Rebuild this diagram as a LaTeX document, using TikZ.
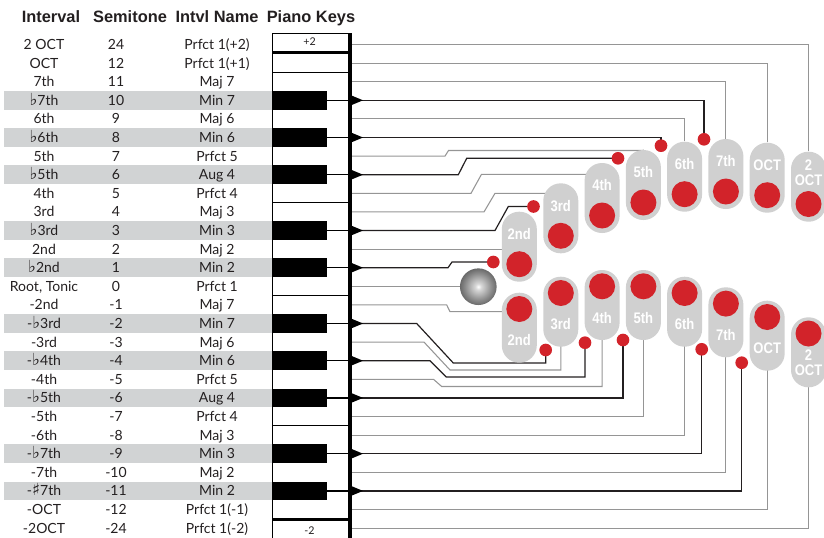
\documentclass[tikz,border=0pt]{standalone}
\usepackage{fontspec}
\setmainfont{Lato}
\newfontfamily\hdrfont{Liberation Sans}
\newfontfamily\pillfont[FakeStretch=0.85]{Liberation Sans}
\newfontfamily\symfont{DejaVu Sans}
\pgfdeclarelayer{bg}
\pgfsetlayers{bg,main}
\definecolor{pillgray}{HTML}{D0D0D0}
\definecolor{redc}{HTML}{D2232A}
\definecolor{bandgray}{HTML}{D1D3D4}
\definecolor{ink}{HTML}{231F20}
\definecolor{wire}{HTML}{959595}
\newcommand{\flt}{{\symfont\fontsize{12.5}{12}\selectfont\char"266D}}
\newcommand{\shp}{{\symfont\fontsize{12.5}{12}\selectfont\char"266F}}
\pgfdeclareradialshading{sphereshade}{\pgfpoint{0bp}{0bp}}{color(0bp)=(white); color(4bp)=(white!85!black); color(18bp)=(black!45); color(35bp)=(black!78); color(50bp)=(black!78)}
\begin{document}
\begin{tikzpicture}[x=0.75pt,y=-0.75pt,
  hdr/.style={font=\hdrfont\bfseries\fontsize{12.3}{14}\selectfont,text=ink,inner sep=0,text height=8.8pt,text depth=0pt},
  cell/.style={font=\fontsize{10.5}{12}\selectfont,text=ink,inner sep=0,text height=7.5pt,text depth=0pt},
  keylab/.style={font=\fontsize{8}{9}\selectfont,text=ink,inner sep=0},
  wirew/.style={draw=wire,line width=0.8pt},
  wireb/.style={draw=ink,line width=0.9pt},
  pill/.style={fill=pillgray,rounded corners=13pt,minimum width=26.25pt,minimum height=52.5pt,inner sep=0,draw=none},
  bigdot/.style={circle,fill=redc,minimum size=19.5pt,inner sep=0},
  smalldot/.style={circle,fill=redc,minimum size=9.5pt,inner sep=0},
  plab/.style={font=\pillfont\bfseries\fontsize{11.5}{12}\selectfont,text=white,inner sep=0,text height=8.2pt,text depth=0pt},
]
\useasboundingbox (0,0) rectangle (824,537);
\clip (0,0) rectangle (824,537);

% headers
\node[hdr] (h1) at (51,17) {Interval};
\node[hdr] (h2) at (130,17) {Semitone};
\node[hdr] (h3) at (217,17) {Intvl Name};
\node[hdr] (h4) at (311,17) {Piano Keys};

% shaded bands for black-key rows
\foreach \i in {3,5,7,10,12,15,17,19,22,24}{
  \fill[bandgray] (4,44.5+18.6*\i-9.3) rectangle (272,44.5+18.6*\i+9.3);
}

% table text
\foreach \i/\a/\b/\c in {
0/2 OCT/24/Prfct 1(+2),
1/OCT/12/Prfct 1(+1),
2/7th/11/Maj 7,
3/\flt 7th/10/Min 7,
4/6th/9/Maj 6,
5/\flt 6th/8/Min 6,
6/5th/7/Prfct 5,
7/\flt 5th/6/Aug 4,
8/4th/5/Prfct 4,
9/3rd/4/Maj 3,
10/\flt 3rd/3/Min 3,
11/2nd/2/Maj 2,
12/\flt 2nd/1/Min 2,
13/{Root, Tonic}/0/Prfct 1,
14/-2nd/-1/Maj 7,
15/-\flt 3rd/-2/Min 7,
16/-3rd/-3/Maj 6,
17/-\flt 4th/-4/Min 6,
18/-4th/-5/Prfct 5,
19/-\flt 5th/-6/Aug 4,
20/-5th/-7/Prfct 4,
21/-6th/-8/Maj 3,
22/-\flt 7th/-9/Min 3,
23/-7th/-10/Maj 2,
24/-\shp 7th/-11/Min 2,
25/-OCT/-12/Prfct 1(-1),
26/-2OCT/-24/Prfct 1(-2)}{
  \node[cell] (iv\i) at (44,44.5+18.6*\i) {\a};
  \node[cell] (st\i) at (116,44.5+18.6*\i) {\b};
  \node[cell] (nm\i) at (217,44.5+18.6*\i) {\c};
  \coordinate (s\i) at (351,44.5+18.6*\i);
}

% keyboard
\draw[line width=0.6pt] (272,33) -- (272,540);
\draw[line width=0.6pt] (272,33) -- (350,33);
\draw[line width=2.25pt] (272,52.5) -- (350,52.5);
\draw[line width=2.25pt] (272,519.5) -- (350,519.5);
\foreach \yy in {72.4,202.1,295.6,425.8}{
  \draw[line width=0.6pt] (272,\yy) -- (350,\yy);
}
\foreach \i in {3,5,7,10,12,15,17,19,22,24}{
  \fill[black] (272,44.5+18.6*\i-9.3) rectangle (327,44.5+18.6*\i+9.3);
  \draw[line width=0.9pt] (327,44.5+18.6*\i) -- (350,44.5+18.6*\i);
  \fill[black] (351,44.5+18.6*\i-5) -- (363,44.5+18.6*\i) -- (351,44.5+18.6*\i+5) -- cycle;
}
\draw[line width=3pt] (350,33) -- (350,540);
\node[keylab] (kp) at (309.5,42) {+2};
\node[keylab] (km) at (309.5,531) {-2};

% pills
\foreach \j/\cx/\tu/\tl/\lab in {1/519.3/211.7/292.7/2nd, 2/560.8/183.3/276.7/3rd, 3/602.1/163/270/4th, 4/643.4/150/270/5th, 5/684.6/141.7/276.7/6th, 6/725.9/139/287.3/7th, 7/767.2/142.7/300.7/OCT}{
  \node[pill] (pu\j) at (\cx,\tu+35) {};
  \node[pill] (pl\j) at (\cx,\tl+35) {};
  \node[bigdot] (cu\j) at (\cx,\tu+52.5) {};
  \node[bigdot] (cl\j) at (\cx,\tl+16.3) {};
  \node[plab] (lu\j) at (\cx,\tu+22.5) {\lab};
  \node[plab] (ll\j) at (\cx,\tl+47.8) {\lab};
}
\node[pill] (pu8) at (808.5,186.7) {};
\node[pill] (pl8) at (808.5,352.3) {};
\node[bigdot] (cu8) at (808.5,204) {};
\node[bigdot] (cl8) at (808.5,333.5) {};
\node[plab] (lu8a) at (808.5,165) {2};
\node[plab] (lu8b) at (808.5,180) {OCT};
\node[plab] (ll8a) at (808.5,355) {2};
\node[plab] (ll8b) at (808.5,370) {OCT};

% small dots for black keys
\node[smalldot] (du3) at (704,139.3) {};
\node[smalldot] (du5) at (661,145.7) {};
\node[smalldot] (du7) at (618,158.3) {};
\node[smalldot] (du10) at (533.5,206.5) {};
\node[smalldot] (du12) at (493.3,262) {};
\node[smalldot] (dl15) at (545.7,350) {};
\node[smalldot] (dl17) at (585,342.7) {};
\node[smalldot] (dl19) at (623,340) {};
\node[smalldot] (dl22) at (701.7,349.3) {};
\node[smalldot] (dl24) at (741.7,362.7) {};

% root sphere
\node[circle,minimum size=27.5pt,inner sep=0,shading=sphereshade] (sph) at (478.3,286.7) {};

% connectors
\begin{pgfonlayer}{bg}
\draw[wirew] (s0) -| (pu8.north);
\draw[wirew] (s1) -| (pu7.north);
\draw[wirew] (s2) -| (pu6.north);
\draw[wirew] (s4) -| (pu5.north);
\draw[wirew] (s6) -- (445,156.1) -- (448.5,150.5) -| (pu4.north);
\coordinate (k8) at (481.5,174.3);
\draw[wirew] (s8) -- (471,193.3) -- (k8) -- (k8 -| pu3.center);
\coordinate (k9) at (495,193.3);
\draw[wirew] (s9) -- (484,211.9) -- (k9) -- (k9 -| pu2.center);
\draw[wirew] (s11) -- (s11 -| pu1.center);
\draw[wirew] (s13) -- (s13 -| sph.center);
\draw[wireb] (s3) -| (du3.center);
\draw[wireb] (s5) -| (du5.center);
\draw[wireb] (s7) -- (458.3,174.7) -- (466.7,158.3) -- (du7.center);
\draw[wireb] (s10) -- (495,230.5) -- (508.3,206.5) -- (du10.center);
\draw[wireb] (s12) -- (448,267.7) -- (452,262) -- (du12.center);
\coordinate (k14) at (450,311.7);
\draw[wirew] (s14) -- (446.7,304.9) -- (k14) -- (k14 -| pl1.center);
\draw[wireb] (s15) -- (416.7,323.5) -- (453.3,363) -| (dl15.center);
\draw[wirew] (s16) -- (424,342.1) -- (450,370) -| (pl2.center);
\draw[wireb] (s17) -- (430,360.7) -- (446.3,377) -| (dl17.center);
\draw[wirew] (s18) -- (433.5,379.3) -- (441.7,386.5) -| (pl3.center);
\draw[wireb] (s19) -| (dl19.center);
\draw[wirew] (s20) -| (pl4.center);
\draw[wirew] (s21) -| (pl5.center);
\draw[wireb] (s22) -| (dl22.center);
\draw[wirew] (s23) -| (pl6.center);
\draw[wireb] (s24) -| (dl24.center);
\draw[wirew] (s25) -| (pl7.center);
\draw[wirew] (s26) -| (pl8.center);
\end{pgfonlayer}
\end{tikzpicture}
\end{document}
